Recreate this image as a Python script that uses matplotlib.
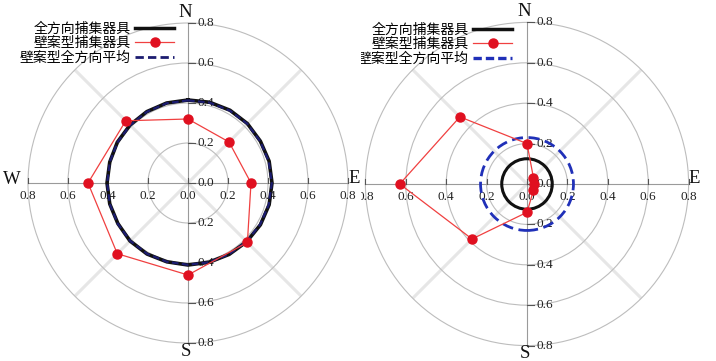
import numpy as np
import matplotlib.pyplot as plt
from matplotlib.lines import Line2D
from matplotlib.patches import Circle

plt.rcParams['font.family'] = ['Liberation Serif', 'Noto Sans CJK SC']

# wind directions as compass bearings (deg, clockwise from north)
dirs8 = [0, 45, 90, 135, 180, 225, 270, 315]
dirs24 = [0, 15, 30, 45, 60, 75, 90, 105, 120, 135, 150, 165,
          180, 195, 210, 225, 240, 255, 270, 285, 300, 315, 330, 345]

# left panel
wall_left = [0.32, 0.29, 0.315, 0.42, 0.46, 0.50, 0.50, 0.44]
omni_left = [0.415, 0.418, 0.42, 0.42, 0.418, 0.42, 0.42, 0.42, 0.418, 0.415, 0.412, 0.41,
             0.41, 0.408, 0.41, 0.41, 0.405, 0.405, 0.405, 0.405, 0.408, 0.41, 0.412, 0.414]
avg_left = [0.413, 0.416, 0.418, 0.419, 0.417, 0.418, 0.419, 0.418, 0.416, 0.414, 0.411, 0.41,
            0.409, 0.408, 0.409, 0.409, 0.406, 0.405, 0.404, 0.405, 0.407, 0.409, 0.411, 0.413]

# right panel
wall_right = [0.20, 0.045, 0.035, 0.045, 0.14, 0.385, 0.63, 0.47]
omni_right = 0.125
avg_right = 0.23

rings = [0.2, 0.4, 0.6, 0.8]
ticks = [-0.8, -0.6, -0.4, -0.2, 0.0, 0.2, 0.4, 0.6, 0.8]
tick_labels = ['0.8', '0.6', '0.4', '0.2', '0.0', '0.2', '0.4', '0.6', '0.8']
labels = ['全方向捕集器具', '壁案型捕集器具', '壁案型全方向平均']

W, H = 716, 361


def to_xy(bearing, r):
    b = np.radians(np.asarray(bearing, dtype=float))
    r = np.asarray(r, dtype=float)
    return r * np.sin(b), r * np.cos(b)


def closed(a):
    return list(a) + [a[0]]


def make_axes(fig, cx, cy, scale, x0, x1):
    # place axes in pixels so one data unit == scale px in both directions
    ax = fig.add_axes([x0 / W, 0, (x1 - x0) / W, 1])
    ax.set_xlim(-(cx - x0) / scale, (x1 - cx) / scale)
    ax.set_ylim(-(H - cy) / scale, cy / scale)
    ax.axis('off')
    return ax


def draw_grid(ax, clip):
    for r in rings:
        ax.add_patch(Circle((0, 0), r, fill=False, ec='#bdbdbd', lw=0.8, zorder=1))
    for b in [45, 135, 225, 315]:
        x, y = to_xy([b, b], [0, 0.8])
        ax.plot(x, y, color='#e6e6e6', lw=2.2, zorder=0.9, solid_capstyle='butt')
    ax.plot([-0.8, 0.8], [0, 0], color='#9a9a9a', lw=0.8, zorder=1.2)
    ax.plot([0, 0], [-0.8, 0.8], color='#9a9a9a', lw=0.8, zorder=1.2)
    for t, lab in zip(ticks, tick_labels):
        ax.plot([t, t], [0, 0.027], color='#555555', lw=0.8, zorder=1.3)
        ax.text(t, -0.065, lab, ha='center', va='center', fontsize=9.5,
                color='#222222', clip_on=clip)
        ax.plot([0, 0.035], [-t, -t], color='#555555', lw=0.8, zorder=1.3)
        ax.text(0.045, -t, lab, ha='left', va='center', fontsize=9.5,
                color='#222222', clip_on=clip, zorder=1.4)
    kw = dict(fontsize=13.5, color='#111111', clip_on=clip)
    ax.text(-0.012, 0.855, 'N', ha='center', va='center', **kw)
    ax.text(-0.012, -0.84, 'S', ha='center', va='center', **kw)
    if ax.get_xlim()[0] < -0.9:
        # west label only fits when the panel extends far enough left
        ax.text(-0.835, 0.02, 'W', ha='right', va='center', **kw)
    ax.text(0.8, 0.025, 'E', ha='left', va='center', **kw)


def add_legend(ax, fig, x, y, avg_color, avg_lw, dash):
    handles = [
        Line2D([], [], color='#111111', lw=2.5),
        Line2D([], [], color='#f04040', lw=0.9, marker='o', ms=6.5,
               mfc='#e01020', mec='#e01020'),
        Line2D([], [], color=avg_color, lw=avg_lw, dashes=dash),
    ]
    leg = ax.legend(handles, labels, loc='upper right', bbox_to_anchor=(x / W, 1 - y / H),
                    bbox_transform=fig.transFigure, frameon=False, markerfirst=False,
                    prop={'family': 'Noto Sans CJK SC', 'size': 10},
                    handlelength=2.8, handletextpad=0.3, labelspacing=0.02, borderpad=0)
    return leg


fig = plt.figure(figsize=(W / 100, H / 100), dpi=100)

# left: omnidirectional collector vs wall-type collector
ax1 = make_axes(fig, 188, 183, 200, 0, 360)
draw_grid(ax1, False)
x, y = to_xy(closed(dirs24), closed(omni_left))
ax1.plot(x, y, color='#111111', lw=2.6, zorder=3)
x, y = to_xy(closed(dirs24), closed(avg_left))
ax1.plot(x, y, color='#1c1c70', lw=1.6, dashes=(3, 1.5), zorder=4)
x, y = to_xy(closed(dirs8), closed(wall_left))
ax1.plot(x, y, color='#f04040', lw=0.9, zorder=5)
ax1.plot(*to_xy(dirs8, wall_left), 'o', ms=6.5, color='#e01020', zorder=6)
add_legend(ax1, fig, 181, 15, '#1c1c70', 2.0, (3, 1.5))

# right
ax2 = make_axes(fig, 527, 184, 202, 361, 716)
draw_grid(ax2, True)
ax2.add_patch(Circle((0, 0), omni_right, fill=False, ec='#111111', lw=2.2, zorder=3))
ax2.add_patch(Circle((0, 0), avg_right, fill=False, ec='#2030b8', lw=2.0,
                     ls=(0, (4, 2)), zorder=4))
x, y = to_xy(closed(dirs8), closed(wall_right))
ax2.plot(x, y, color='#f04040', lw=0.9, zorder=5)
ax2.plot(*to_xy(dirs8, wall_right), 'o', ms=6.5, color='#e01020', zorder=6)
leg = add_legend(ax2, fig, 519, 16, '#2030b8', 2.4, (2.5, 1.2))
for t in leg.get_texts():
    t.set_clip_box(ax2.bbox)
    t.set_clip_on(True)

fig.savefig('out.png', dpi=100)
